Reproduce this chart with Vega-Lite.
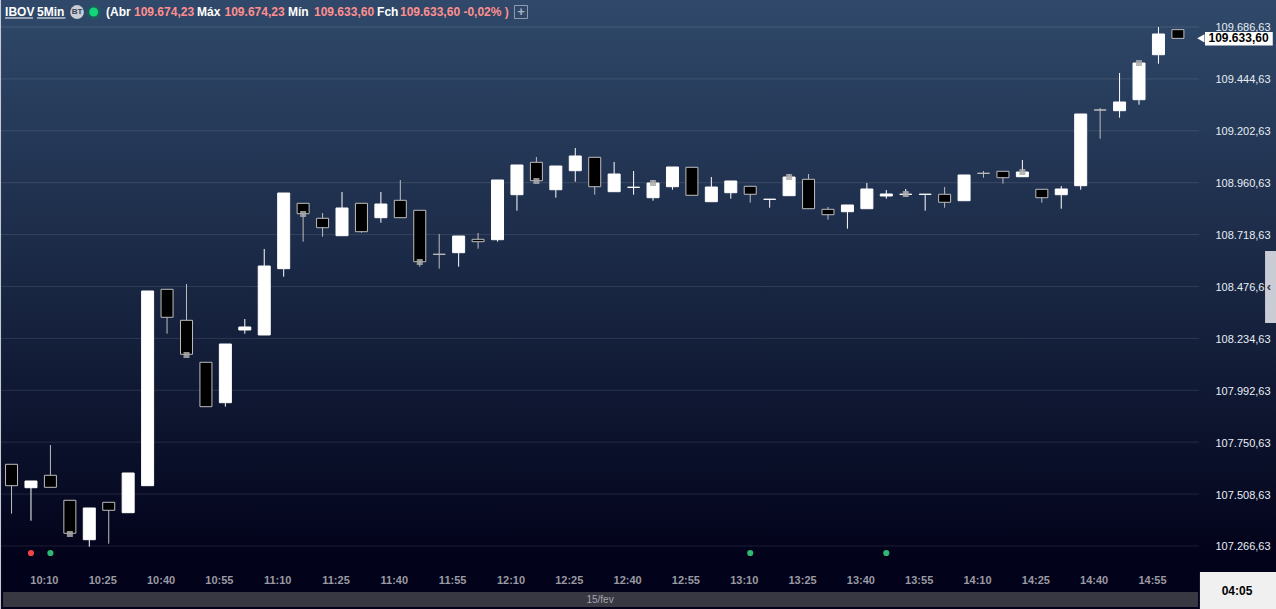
{
"$schema":"https://vega.github.io/schema/vega-lite/v6.json",
"width":1276,"height":609,"autosize":{"type":"none"},"padding":0,
"background":"#02021a",
"view":{"stroke":null,"fill":{"gradient":"linear","x1":0,"y1":0,"x2":0,"y2":1,"stops":[{"offset":0,"color":"#30496a"},{"offset":0.5,"color":"#172440"},{"offset":0.92,"color":"#02021a"},{"offset":1,"color":"#02021a"}]}},
"config":{"locale":{"number":{"decimal":",","thousands":".","grouping":[3],"currency":["",""]}},"font":"Liberation Sans"},
"datasets":{
"candles":[
{"t":"2023-02-15T10:00:00Z","o":107547.7,"h":107647.5,"l":107417.1,"c":107647.5,"dir":"down"},
{"t":"2023-02-15T10:05:00Z","o":107538.3,"h":107569.6,"l":107384.5,"c":107569.6,"dir":"up"},
{"t":"2023-02-15T10:10:00Z","o":107596.2,"h":107737.5,"l":107540.2,"c":107540.2,"dir":"down"},
{"t":"2023-02-15T10:15:00Z","o":107479.6,"h":107479.6,"l":107325.7,"c":107325.7,"dir":"down"},
{"t":"2023-02-15T10:20:00Z","o":107295.9,"h":107443.7,"l":107263.3,"c":107443.7,"dir":"up"},
{"t":"2023-02-15T10:25:00Z","o":107470.3,"h":107470.3,"l":107277.2,"c":107433,"dir":"down"},
{"t":"2023-02-15T10:30:00Z","o":107421.8,"h":107606.9,"l":107421.8,"c":107606.9,"dir":"up"},
{"t":"2023-02-15T10:35:00Z","o":107547.7,"h":108455.6,"l":107547.7,"c":108455.6,"dir":"up"},
{"t":"2023-02-15T10:40:00Z","o":108463.5,"h":108463.5,"l":108256.5,"c":108332.9,"dir":"down"},
{"t":"2023-02-15T10:45:00Z","o":108318.9,"h":108488.2,"l":108160.4,"c":108160.4,"dir":"down"},
{"t":"2023-02-15T10:50:00Z","o":108123.1,"h":108123.1,"l":107916.1,"c":107916.1,"dir":"down"},
{"t":"2023-02-15T10:55:00Z","o":107934.7,"h":108208.4,"l":107916.1,"c":108208.4,"dir":"up"},
{"t":"2023-02-15T11:00:00Z","o":108273.7,"h":108325,"l":108256.5,"c":108287.7,"dir":"up"},
{"t":"2023-02-15T11:05:00Z","o":108250.4,"h":108651.4,"l":108250.4,"c":108572.1,"dir":"up"},
{"t":"2023-02-15T11:10:00Z","o":108559.6,"h":108912.5,"l":108522.2,"c":108912.5,"dir":"up"},
{"t":"2023-02-15T11:15:00Z","o":108864.5,"h":108864.5,"l":108685.5,"c":108816,"dir":"down"},
{"t":"2023-02-15T11:20:00Z","o":108794.6,"h":108819.3,"l":108708.8,"c":108750.7,"dir":"down"},
{"t":"2023-02-15T11:25:00Z","o":108713.4,"h":108917.2,"l":108713.4,"c":108842.6,"dir":"up"},
{"t":"2023-02-15T11:30:00Z","o":108864.5,"h":108864.5,"l":108727.4,"c":108732.1,"dir":"down"},
{"t":"2023-02-15T11:35:00Z","o":108797.4,"h":108917.2,"l":108774.1,"c":108861.2,"dir":"up"},
{"t":"2023-02-15T11:40:00Z","o":108878.5,"h":108973.2,"l":108797.4,"c":108797.4,"dir":"down"},
{"t":"2023-02-15T11:45:00Z","o":108831.9,"h":108831.9,"l":108568.9,"c":108592.2,"dir":"down"},
{"t":"2023-02-15T11:50:00Z","o":108627,"h":108721.4,"l":108559.6,"c":108626.4,"dir":"down"},
{"t":"2023-02-15T11:55:00Z","o":108634.2,"h":108712,"l":108568.9,"c":108712,"dir":"up"},
{"t":"2023-02-15T12:00:00Z","o":108696.6,"h":108726,"l":108652.8,"c":108685.5,"dir":"down"},
{"t":"2023-02-15T12:05:00Z","o":108694.8,"h":108973.2,"l":108685.5,"c":108973.2,"dir":"up"},
{"t":"2023-02-15T12:10:00Z","o":108904.6,"h":109043.1,"l":108830,"c":109043.1,"dir":"up"},
{"t":"2023-02-15T12:15:00Z","o":109055.7,"h":109080.4,"l":108969.9,"c":108969.9,"dir":"down"},
{"t":"2023-02-15T12:20:00Z","o":108927.9,"h":109038.4,"l":108890.6,"c":109038.4,"dir":"up"},
{"t":"2023-02-15T12:25:00Z","o":109016.5,"h":109122.4,"l":108965.2,"c":109085.1,"dir":"up"},
{"t":"2023-02-15T12:30:00Z","o":109079,"h":109079,"l":108904.6,"c":108941.9,"dir":"down"},
{"t":"2023-02-15T12:35:00Z","o":108918.6,"h":109057.1,"l":108918.6,"c":109001.1,"dir":"up"},
{"t":"2023-02-15T12:40:00Z","o":108938.8,"h":109015.1,"l":108904.6,"c":108939.4,"dir":"up"},
{"t":"2023-02-15T12:45:00Z","o":108890.6,"h":108973.2,"l":108876.6,"c":108959.2,"dir":"up"},
{"t":"2023-02-15T12:50:00Z","o":108941.9,"h":109033.8,"l":108927.9,"c":109033.8,"dir":"up"},
{"t":"2023-02-15T12:55:00Z","o":109032.4,"h":109032.4,"l":108901.8,"c":108901.8,"dir":"down"},
{"t":"2023-02-15T13:00:00Z","o":108872,"h":108987.1,"l":108872,"c":108940.5,"dir":"up"},
{"t":"2023-02-15T13:05:00Z","o":108913.9,"h":108968.5,"l":108886,"c":108968.5,"dir":"up"},
{"t":"2023-02-15T13:10:00Z","o":108943.8,"h":108943.8,"l":108867.3,"c":108906.5,"dir":"down"},
{"t":"2023-02-15T13:15:00Z","o":108883,"h":108883.4,"l":108844,"c":108883.4,"dir":"up"},
{"t":"2023-02-15T13:20:00Z","o":108900,"h":109001.1,"l":108900,"c":108987.1,"dir":"up"},
{"t":"2023-02-15T13:25:00Z","o":108976.4,"h":109001.1,"l":108839.3,"c":108839.3,"dir":"down"},
{"t":"2023-02-15T13:30:00Z","o":108836.5,"h":108847.3,"l":108788.1,"c":108811.4,"dir":"down"},
{"t":"2023-02-15T13:35:00Z","o":108825.3,"h":108856.6,"l":108746.1,"c":108856.6,"dir":"up"},
{"t":"2023-02-15T13:40:00Z","o":108839.3,"h":108959.2,"l":108839.3,"c":108931.2,"dir":"up"},
{"t":"2023-02-15T13:45:00Z","o":108898.6,"h":108926.5,"l":108886,"c":108907.9,"dir":"up"},
{"t":"2023-02-15T13:50:00Z","o":108906.2,"h":108931.2,"l":108895.3,"c":108906.8,"dir":"up"},
{"t":"2023-02-15T13:55:00Z","o":108906.2,"h":108906.8,"l":108830,"c":108906.8,"dir":"up"},
{"t":"2023-02-15T14:00:00Z","o":108906.5,"h":108940.5,"l":108844,"c":108869.2,"dir":"down"},
{"t":"2023-02-15T14:05:00Z","o":108876.6,"h":108996.5,"l":108876.6,"c":108996.5,"dir":"up"},
{"t":"2023-02-15T14:10:00Z","o":109004.6,"h":109015.1,"l":108983.9,"c":109004.2,"dir":"down"},
{"t":"2023-02-15T14:15:00Z","o":109013.7,"h":109013.7,"l":108955.9,"c":108983.9,"dir":"down"},
{"t":"2023-02-15T14:20:00Z","o":108988.5,"h":109066.4,"l":108988.5,"c":109010.5,"dir":"up"},
{"t":"2023-02-15T14:25:00Z","o":108929.8,"h":108929.8,"l":108867.3,"c":108890.6,"dir":"down"},
{"t":"2023-02-15T14:30:00Z","o":108904.6,"h":108945.2,"l":108839.3,"c":108931.2,"dir":"up"},
{"t":"2023-02-15T14:35:00Z","o":108946.6,"h":109280.9,"l":108927.9,"c":109280.9,"dir":"up"},
{"t":"2023-02-15T14:40:00Z","o":109299.8,"h":109308.9,"l":109165.7,"c":109299.4,"dir":"down"},
{"t":"2023-02-15T14:45:00Z","o":109296.3,"h":109472.1,"l":109263.7,"c":109336.9,"dir":"up"},
{"t":"2023-02-15T14:50:00Z","o":109347.6,"h":109518.7,"l":109324.3,"c":109518.7,"dir":"up"},
{"t":"2023-02-15T14:55:00Z","o":109557.4,"h":109686.6,"l":109515.5,"c":109654,"dir":"up"},
{"t":"2023-02-15T15:00:00Z","o":109674.23,"h":109674.23,"l":109633.6,"c":109633.6,"dir":"down"}
]
},
"layer":[
{"data":{"values":[
{"price":109686.63,"t":"2023-02-15T09:57:02Z","t2":"2023-02-15T15:05:26Z"},
{"price":109444.63,"t":"2023-02-15T09:57:02Z","t2":"2023-02-15T15:05:26Z"},
{"price":109202.63,"t":"2023-02-15T09:57:02Z","t2":"2023-02-15T15:05:26Z"},
{"price":108960.63,"t":"2023-02-15T09:57:02Z","t2":"2023-02-15T15:05:26Z"},
{"price":108718.63,"t":"2023-02-15T09:57:02Z","t2":"2023-02-15T15:05:26Z"},
{"price":108476.63,"t":"2023-02-15T09:57:02Z","t2":"2023-02-15T15:05:26Z"},
{"price":108234.63,"t":"2023-02-15T09:57:02Z","t2":"2023-02-15T15:05:26Z"},
{"price":107992.63,"t":"2023-02-15T09:57:02Z","t2":"2023-02-15T15:05:26Z"},
{"price":107750.63,"t":"2023-02-15T09:57:02Z","t2":"2023-02-15T15:05:26Z"},
{"price":107508.63,"t":"2023-02-15T09:57:02Z","t2":"2023-02-15T15:05:26Z"},
{"price":107266.63,"t":"2023-02-15T09:57:02Z","t2":"2023-02-15T15:05:26Z"}
]},
"mark":{"type":"rule","color":"#ffffff","opacity":0.11,"strokeWidth":1},
"encoding":{
"x":{"field":"t","type":"temporal","scale":{"type":"utc","padding":0,"domain":[{"year":2023,"month":2,"date":15,"hours":9,"minutes":57,"seconds":2,"utc":true},{"year":2023,"month":2,"date":15,"hours":15,"minutes":25,"seconds":14,"utc":true}]},
"axis":{"title":null,"orient":"bottom","offset":-35,"domain":false,"ticks":false,"grid":false,"labelPadding":0,"labelOffset":-6.5,"labelColor":"#9a9aa2","labelFontSize":11,"labelFontWeight":"bold","labelOverlap":false,"labelFlush":false,"format":"%H:%M","zindex":0,
"values":[{"year":2023,"month":2,"date":15,"hours":10,"minutes":10,"utc":true},{"year":2023,"month":2,"date":15,"hours":10,"minutes":25,"utc":true},{"year":2023,"month":2,"date":15,"hours":10,"minutes":40,"utc":true},{"year":2023,"month":2,"date":15,"hours":10,"minutes":55,"utc":true},{"year":2023,"month":2,"date":15,"hours":11,"minutes":10,"utc":true},{"year":2023,"month":2,"date":15,"hours":11,"minutes":25,"utc":true},{"year":2023,"month":2,"date":15,"hours":11,"minutes":40,"utc":true},{"year":2023,"month":2,"date":15,"hours":11,"minutes":55,"utc":true},{"year":2023,"month":2,"date":15,"hours":12,"minutes":10,"utc":true},{"year":2023,"month":2,"date":15,"hours":12,"minutes":25,"utc":true},{"year":2023,"month":2,"date":15,"hours":12,"minutes":40,"utc":true},{"year":2023,"month":2,"date":15,"hours":12,"minutes":55,"utc":true},{"year":2023,"month":2,"date":15,"hours":13,"minutes":10,"utc":true},{"year":2023,"month":2,"date":15,"hours":13,"minutes":25,"utc":true},{"year":2023,"month":2,"date":15,"hours":13,"minutes":40,"utc":true},{"year":2023,"month":2,"date":15,"hours":13,"minutes":55,"utc":true},{"year":2023,"month":2,"date":15,"hours":14,"minutes":10,"utc":true},{"year":2023,"month":2,"date":15,"hours":14,"minutes":25,"utc":true},{"year":2023,"month":2,"date":15,"hours":14,"minutes":40,"utc":true},{"year":2023,"month":2,"date":15,"hours":14,"minutes":55,"utc":true}]}},
"x2":{"field":"t2"},
"y":{"field":"price","type":"quantitative","scale":{"domain":[106972.7,109812.5],"nice":false,"zero":false},
"axis":{"title":null,"orient":"right","offset":-61,"domain":false,"ticks":false,"grid":false,"labelPadding":0,"labelOffset":1,"labelColor":"#e8eef4","labelFontSize":11,"labelOverlap":false,"labelFlush":false,"format":",.2f","zindex":0,
"values":[109686.63,109444.63,109202.63,108960.63,108718.63,108476.63,108234.63,107992.63,107750.63,107508.63,107266.63]}}
}},
{"data":{"name":"candles"},"mark":{"type":"rule","strokeWidth":1},
"encoding":{"x":{"field":"t","type":"temporal","axis":{"title":null}},"y":{"field":"h","type":"quantitative","axis":{"title":null,"orient":"right"}},"y2":{"field":"l"},
"stroke":{"field":"dir","type":"nominal","scale":{"domain":["up","down"],"range":["#ffffff","#bdbdbd"]},"legend":null}}},
{"data":{"name":"candles"},"mark":{"type":"bar","size":12,"strokeWidth":1},
"encoding":{"x":{"field":"t","type":"temporal","axis":{"title":null}},"y":{"field":"o","type":"quantitative","axis":{"title":null,"orient":"right"}},"y2":{"field":"c"},
"color":{"field":"dir","type":"nominal","scale":{"domain":["up","down"],"range":["#ffffff","#000000"]},"legend":null},
"stroke":{"field":"dir","type":"nominal","legend":null}}},
{"data":{"values":[
{"t":"2023-02-15T10:15:00Z","price":107322.5},{"t":"2023-02-15T10:45:00Z","price":108157},{"t":"2023-02-15T11:15:00Z","price":108814.6},{"t":"2023-02-15T11:45:00Z","price":108590.8},{"t":"2023-02-15T12:15:00Z","price":108968.5},{"t":"2023-02-15T12:45:00Z","price":108959.2},{"t":"2023-02-15T13:20:00Z","price":108987.1},{"t":"2023-02-15T13:50:00Z","price":108907.9},{"t":"2023-02-15T14:20:00Z","price":109010.5},{"t":"2023-02-15T14:50:00Z","price":109518.7}
]},"mark":{"type":"point","shape":"square","filled":true,"size":36,"color":"#aaaaaa","opacity":0.85},
"encoding":{"x":{"field":"t","type":"temporal","axis":{"title":null}},"y":{"field":"price","type":"quantitative","axis":{"title":null,"orient":"right"}}}},
{"data":{"values":[{"t":"2023-02-15T10:05:00Z","price":107233.9,"sig":"sell"},{"t":"2023-02-15T10:10:00Z","price":107233.9,"sig":"buy"},{"t":"2023-02-15T13:10:00Z","price":107233.9,"sig":"buy"},{"t":"2023-02-15T13:45:00Z","price":107233.9,"sig":"buy"}]},
"mark":{"type":"point","filled":true,"size":38,"opacity":1},
"encoding":{"x":{"field":"t","type":"temporal","axis":{"title":null}},"y":{"field":"price","type":"quantitative","axis":{"title":null,"orient":"right"}},"fill":{"field":"sig","type":"nominal","scale":{"domain":["sell","buy"],"range":["#f04444","#2fb872"]},"legend":null}}},
{"data":{"values":[{"t":"2023-02-15T09:57:02Z","t2":"2023-02-15T09:57:18Z","price":109812.5,"price2":106972.7}]},"mark":{"type":"rect","color":"#c4c8d0"},
"encoding":{"x":{"field":"t","type":"temporal","axis":{"title":null}},"x2":{"field":"t2"},"y":{"field":"price","type":"quantitative","axis":{"title":null,"orient":"right"}},"y2":{"field":"price2"}}},
{"data":{"values":[{"t":"2023-02-15T09:57:49Z","t2":"2023-02-15T15:05:10Z","price":107052,"price2":106982.1}]},"mark":{"type":"rect","color":"#383842"},
"encoding":{"x":{"field":"t","type":"temporal","axis":{"title":null}},"x2":{"field":"t2"},"y":{"field":"price","type":"quantitative","axis":{"title":null,"orient":"right"}},"y2":{"field":"price2"}}},
{"data":{"values":[{"t":"2023-02-15T15:05:40Z","t2":"2023-02-15T15:25:14Z","price":107145.3,"price2":106972.7}]},"mark":{"type":"rect","color":"#f0f0f0"},
"encoding":{"x":{"field":"t","type":"temporal","axis":{"title":null}},"x2":{"field":"t2"},"y":{"field":"price","type":"quantitative","axis":{"title":null,"orient":"right"}},"y2":{"field":"price2"}}},
{"data":{"values":[{"t":"2023-02-15T15:22:25Z","t2":"2023-02-15T15:25:14Z","price":108642.1,"price2":108306.4}]},"mark":{"type":"rect","color":"#c9ccd4"},
"encoding":{"x":{"field":"t","type":"temporal","axis":{"title":null}},"x2":{"field":"t2"},"y":{"field":"price","type":"quantitative","axis":{"title":null,"orient":"right"}},"y2":{"field":"price2"}}},
{"data":{"values":[{"t":"2023-02-15T15:06:58Z","t2":"2023-02-15T15:24:24Z","price":109663.3,"price2":109600.3}]},"mark":{"type":"rect","color":"#ffffff"},
"encoding":{"x":{"field":"t","type":"temporal","axis":{"title":null}},"x2":{"field":"t2"},"y":{"field":"price","type":"quantitative","axis":{"title":null,"orient":"right"}},"y2":{"field":"price2"}}},
{"data":{"values":[{"t":"2023-02-15T15:05:54Z","price":109633.6}]},"mark":{"type":"point","shape":"triangle-left","filled":true,"size":70,"color":"#ffffff","opacity":1},
"encoding":{"x":{"field":"t","type":"temporal","axis":{"title":null}},"y":{"field":"price","type":"quantitative","axis":{"title":null,"orient":"right"}}}},
{"data":{"values":[{"t":"2023-02-15T09:58:20Z","t2":"2023-02-15T10:05:32Z","price":109728.6},{"t":"2023-02-15T10:06:33Z","t2":"2023-02-15T10:13:53Z","price":109728.6}]},"mark":{"type":"rule","color":"#ffffff","strokeWidth":1},
"encoding":{"x":{"field":"t","type":"temporal","axis":{"title":null}},"x2":{"field":"t2"},"y":{"field":"price","type":"quantitative","axis":{"title":null,"orient":"right"}}}},
{"data":{"values":[{"t":"2023-02-15T10:16:51Z","price":109756.5}]},"mark":{"type":"point","filled":true,"size":190,"color":"#c8ccd4","opacity":1},
"encoding":{"x":{"field":"t","type":"temporal","axis":{"title":null}},"y":{"field":"price","type":"quantitative","axis":{"title":null,"orient":"right"}}}},
{"data":{"values":[{"t":"2023-02-15T10:21:08Z","price":109756.5}]},"mark":{"type":"point","filled":true,"size":210,"color":"#1f5a5c","opacity":1},
"encoding":{"x":{"field":"t","type":"temporal","axis":{"title":null}},"y":{"field":"price","type":"quantitative","axis":{"title":null,"orient":"right"}}}},
{"data":{"values":[{"t":"2023-02-15T10:21:08Z","price":109756.5}]},"mark":{"type":"point","filled":true,"size":80,"color":"#12d478","opacity":1},
"encoding":{"x":{"field":"t","type":"temporal","axis":{"title":null}},"y":{"field":"price","type":"quantitative","axis":{"title":null,"orient":"right"}}}},
{"data":{"values":[{"t":"2023-02-15T12:11:02Z","price":109756.5}]},"mark":{"type":"point","shape":"square","filled":false,"size":170,"color":"#8f9db0","strokeWidth":1,"opacity":1},
"encoding":{"x":{"field":"t","type":"temporal","axis":{"title":null}},"y":{"field":"price","type":"quantitative","axis":{"title":null,"orient":"right"}}}},
{"data":{"values":[{"t":"2023-02-15T12:11:02Z","price":109756.5,"label":"+"}]},"mark":{"type":"text","color":"#a8b4c4","fontSize":13,"fontWeight":"bold","align":"center","baseline":"middle"},
"encoding":{"x":{"field":"t","type":"temporal","axis":{"title":null}},"y":{"field":"price","type":"quantitative","axis":{"title":null,"orient":"right"}},"text":{"field":"label"}}},
{"data":{"values":[{"t":"2023-02-15T10:16:51Z","price":109756.5,"label":"BT"}]},"mark":{"type":"text","color":"#33415a","fontSize":8,"fontWeight":"bold","align":"center","baseline":"middle"},
"encoding":{"x":{"field":"t","type":"temporal","axis":{"title":null}},"y":{"field":"price","type":"quantitative","axis":{"title":null,"orient":"right"}},"text":{"field":"label"}}},
{"data":{"values":[{"t":"2023-02-15T09:58:20Z","price":109756.5,"label":"IBOV"},{"t":"2023-02-15T10:06:33Z","price":109756.5,"label":"5Min"},{"t":"2023-02-15T10:24:18Z","price":109756.5,"label":"(Abr"},{"t":"2023-02-15T10:47:43Z","price":109756.5,"label":"Máx"},{"t":"2023-02-15T11:11:07Z","price":109756.5,"label":"Mín"},{"t":"2023-02-15T11:34:01Z","price":109756.5,"label":"Fch"}]},
"mark":{"type":"text","color":"#ffffff","fontSize":12,"fontWeight":"bold","align":"left","baseline":"middle"},
"encoding":{"x":{"field":"t","type":"temporal","axis":{"title":null}},"y":{"field":"price","type":"quantitative","axis":{"title":null,"orient":"right"}},"text":{"field":"label"}}},
{"data":{"values":[{"t":"2023-02-15T10:31:30Z","price":109756.5,"label":"109.674,23"},{"t":"2023-02-15T10:54:47Z","price":109756.5,"label":"109.674,23"},{"t":"2023-02-15T11:17:48Z","price":109756.5,"label":"109.633,60"},{"t":"2023-02-15T11:39:55Z","price":109756.5,"label":"109.633,60 -0,02% )"}]},
"mark":{"type":"text","color":"#ff8f8f","fontSize":12,"fontWeight":"bold","align":"left","baseline":"middle"},
"encoding":{"x":{"field":"t","type":"temporal","axis":{"title":null}},"y":{"field":"price","type":"quantitative","axis":{"title":null,"orient":"right"}},"text":{"field":"label"}}},
{"data":{"values":[{"t":"2023-02-15T15:15:36Z","price":109633.4,"label":"109.633,60"},{"t":"2023-02-15T15:15:12Z","price":107056.7,"label":"04:05"}]},
"mark":{"type":"text","color":"#000000","fontSize":12,"fontWeight":"bold","align":"center","baseline":"middle"},
"encoding":{"x":{"field":"t","type":"temporal","axis":{"title":null}},"y":{"field":"price","type":"quantitative","axis":{"title":null,"orient":"right"}},"text":{"field":"label"}}},
{"data":{"values":[{"t":"2023-02-15T12:31:22Z","price":107014.7,"label":"15/fev"}]},"mark":{"type":"text","color":"#a4a4ac","fontSize":10,"align":"center","baseline":"middle"},
"encoding":{"x":{"field":"t","type":"temporal","axis":{"title":null}},"y":{"field":"price","type":"quantitative","axis":{"title":null,"orient":"right"}},"text":{"field":"label"}}},
{"data":{"values":[{"t":"2023-02-15T15:23:26Z","price":108474,"label":"‹"}]},"mark":{"type":"text","color":"#333333","fontSize":13,"fontWeight":"bold","align":"center","baseline":"middle"},
"encoding":{"x":{"field":"t","type":"temporal","axis":{"title":null}},"y":{"field":"price","type":"quantitative","axis":{"title":null,"orient":"right"}},"text":{"field":"label"}}}
]
}
